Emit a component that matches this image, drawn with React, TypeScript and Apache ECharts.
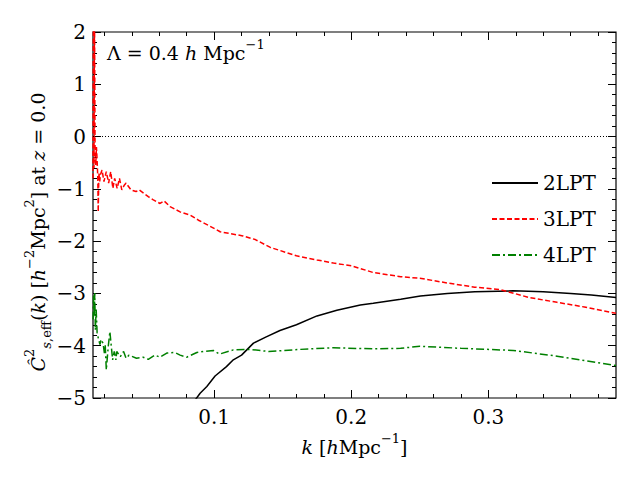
import React, { useEffect, useRef } from 'react';
import * as echarts from 'echarts';

const FONT = 'DejaVu Serif';

const X_MIN = 0.0117;
const X_MAX = 0.393;
const Y_MIN = -5;
const Y_MAX = 2;
const MAJOR_X = [0.1, 0.2, 0.3];
const MINOR_X = [0.02, 0.04, 0.06, 0.08, 0.12, 0.14, 0.16, 0.18, 0.22, 0.24, 0.26, 0.28, 0.32, 0.34, 0.36, 0.38];

const seriesNames = ['2LPT', '3LPT', '4LPT'];

// 2LPT
const k2 = [0.085, 0.0898, 0.0947, 0.1007, 0.109, 0.114, 0.12, 0.1287, 0.138, 0.148, 0.16, 0.175, 0.1895, 0.2066, 0.216, 0.236, 0.2504, 0.27, 0.29, 0.318, 0.34, 0.36, 0.375, 0.393];
const c2 = [-5.08, -4.91, -4.78, -4.58, -4.4, -4.27, -4.18, -3.95, -3.83, -3.71, -3.6, -3.43, -3.32, -3.22, -3.19, -3.11, -3.05, -3.0, -2.97, -2.95, -2.97, -3.0, -3.03, -3.08];

// 3LPT
const k3 = [0.0117, 0.012, 0.0124, 0.0128, 0.0132, 0.0137, 0.0142, 0.0147, 0.0152, 0.0155, 0.016, 0.0166, 0.0172, 0.0183, 0.0197, 0.0214, 0.0231, 0.0246, 0.0262, 0.0275, 0.0293, 0.031, 0.0327, 0.0345, 0.0358, 0.0394, 0.0431, 0.0455, 0.052, 0.0557, 0.0606, 0.0635, 0.0679, 0.0752, 0.0825, 0.0886, 0.096, 0.1044, 0.121, 0.13, 0.141, 0.16, 0.175, 0.187, 0.2, 0.216, 0.236, 0.25, 0.27, 0.29, 0.309, 0.33, 0.35, 0.37, 0.393];
const c3 = [-0.8, 2.4, -0.6, 2.4, -0.3, -0.55, -0.2, -0.45, -0.8, -1.44, -0.7, -0.86, -0.72, -0.64, -0.86, -0.67, -0.89, -0.67, -0.99, -0.8, -0.99, -0.8, -1.02, -0.93, -0.89, -1.02, -1.05, -1.02, -1.15, -1.21, -1.28, -1.23, -1.34, -1.44, -1.5, -1.6, -1.7, -1.82, -1.9, -1.97, -2.12, -2.28, -2.36, -2.42, -2.47, -2.6, -2.68, -2.71, -2.8, -2.88, -2.93, -3.08, -3.17, -3.26, -3.38];

// 4LPT
const k4 = [0.0118, 0.0121, 0.0126, 0.013, 0.0134, 0.014, 0.0147, 0.0156, 0.0168, 0.0175, 0.019, 0.02, 0.0206, 0.0214, 0.0228, 0.024, 0.026, 0.0272, 0.0284, 0.029, 0.0316, 0.034, 0.0358, 0.038, 0.0434, 0.0483, 0.052, 0.0569, 0.0606, 0.0655, 0.0715, 0.0752, 0.08, 0.0874, 0.0922, 0.0995, 0.104, 0.114, 0.126, 0.1397, 0.163, 0.187, 0.216, 0.236, 0.25, 0.28, 0.318, 0.35, 0.393];
const c4 = [-3.5, -3.03, -3.44, -2.99, -3.7, -3.3, -3.75, -3.86, -3.98, -3.88, -3.95, -4.14, -3.98, -4.46, -4.02, -3.73, -4.27, -4.11, -4.27, -4.11, -4.21, -4.11, -4.24, -4.18, -4.24, -4.22, -4.26, -4.18, -4.22, -4.14, -4.13, -4.18, -4.22, -4.13, -4.11, -4.09, -4.16, -4.08, -4.07, -4.11, -4.07, -4.04, -4.06, -4.05, -4.01, -4.05, -4.09, -4.2, -4.38];

const pairs = (ks: number[], vs: number[]) => ks.map((k, i) => [k, vs[i]]);

const rich = {
  r: { fontFamily: FONT, fontSize: 19, lineHeight: 30, color: '#000' },
  i: { fontFamily: FONT, fontSize: 19, lineHeight: 30, color: '#000', fontStyle: 'italic' },
  sup: { fontFamily: FONT, fontSize: 13, lineHeight: 14, color: '#000', verticalAlign: 'top' },
  sub: { fontFamily: FONT, fontSize: 13, lineHeight: 20, color: '#000', verticalAlign: 'bottom' },
  subi: { fontFamily: FONT, fontSize: 13, lineHeight: 20, color: '#000', verticalAlign: 'bottom', fontStyle: 'italic' },
};

const tickLine = { color: '#000', width: 1 };

const baseX = (position: string, values: number[], len: number, labels: boolean) => ({
  type: 'value',
  min: X_MIN,
  max: X_MAX,
  position,
  axisLine: { show: false, onZero: false },
  splitLine: { show: false },
  axisTick: { show: true, inside: true, length: len, customValues: values, lineStyle: tickLine },
  axisLabel: labels
    ? { show: true, customValues: values, margin: 9, color: '#000', fontFamily: FONT, fontSize: 20, formatter: (v: number) => v.toFixed(1) }
    : { show: false },
});

const fmtY = (v: number) => (v < 0 ? '\u2212' + Math.abs(v) : String(v));

const baseY = (position: string, labels: boolean) => ({
  type: 'value',
  min: Y_MIN,
  max: Y_MAX,
  interval: 1,
  position,
  axisLine: { show: false, onZero: false },
  splitLine: { show: false },
  axisTick: { show: true, inside: true, length: 8, lineStyle: tickLine },
  minorTick: { show: true, splitNumber: 5, length: 4, lineStyle: tickLine },
  axisLabel: labels
    ? { show: true, margin: 7, color: '#000', fontFamily: FONT, fontSize: 20, formatter: fmtY }
    : { show: false },
});

export default function App() {
  const ref = useRef<HTMLDivElement>(null);
  useEffect(() => {
    const chart = echarts.init(ref.current!, null, { renderer: 'svg' });
    const option: any = {
      animation: false,
      backgroundColor: '#fff',
      textStyle: { fontFamily: FONT },
      grid: { left: 93, top: 32, width: 523, height: 366, show: true, borderColor: '#000', borderWidth: 1.2, backgroundColor: 'transparent' },
      xAxis: [
        {
          ...baseX('bottom', MAJOR_X, 8, true),
          name: '{i|k}{r| [}{i|h}{r|Mpc}{sup|\u22121}{r|]}',
          nameLocation: 'middle',
          nameGap: 34,
          nameTextStyle: { rich },
        },
        baseX('bottom', MINOR_X, 4, false),
        baseX('top', MAJOR_X, 8, false),
        baseX('top', MINOR_X, 4, false),
      ],
      yAxis: [baseY('left', true), baseY('right', false)],
      legend: {
        data: seriesNames,
        orient: 'vertical',
        left: 486,
        top: 168,
        itemWidth: 46,
        itemHeight: 14,
        itemGap: 16,
        itemStyle: { opacity: 0 },
        textStyle: { fontFamily: FONT, fontSize: 20, color: '#000' },
      },
      graphic: [
        {
          type: 'text',
          x: 107,
          y: 53,
          style: {
            text: '{r|\u039B = 0.4 }{i|h}{r| Mpc}{sup|\u22121}',
            rich,
            align: 'left',
            verticalAlign: 'middle',
          },
        },
        {
          type: 'text',
          x: 38,
          y: 232,
          rotation: Math.PI / 2,
          style: {
            text: '{i|\u0108}{sup|2}{subi|s}{sub|,eff}{r|(}{i|k}{r|) [}{i|h}{sup|\u22122}{r|Mpc}{sup|2}{r|] at }{i|z}{r| = 0.0}',
            rich,
            align: 'center',
            verticalAlign: 'middle',
          },
        },
      ],
      series: [
        {
          name: seriesNames[0],
          type: 'line',
          symbol: 'none',
          clip: true,
          data: pairs(k2, c2),
          lineStyle: { color: '#000', width: 1.5, type: 'solid' },
          itemStyle: { color: '#000' },
          markLine: {
            silent: true,
            symbol: ['none', 'none'],
            label: { show: false },
            lineStyle: { color: '#000', width: 1, type: [1, 2] },
            data: [{ yAxis: 0 }],
          },
        },
        {
          name: seriesNames[1],
          type: 'line',
          symbol: 'none',
          clip: true,
          data: pairs(k3, c3),
          lineStyle: { color: '#ff0000', width: 1.5, type: [5, 2.5] },
          itemStyle: { color: '#ff0000' },
        },
        {
          name: seriesNames[2],
          type: 'line',
          symbol: 'none',
          clip: true,
          data: pairs(k4, c4),
          lineStyle: { color: '#008000', width: 1.5, type: [8, 3, 2, 3] },
          itemStyle: { color: '#008000' },
        },
      ],
    };
    chart.setOption(option);
    return () => chart.dispose();
  }, []);
  return <div ref={ref} style={{ position: 'fixed', left: 0, top: 0, width: 640, height: 480, background: '#fff' }} />;
}
